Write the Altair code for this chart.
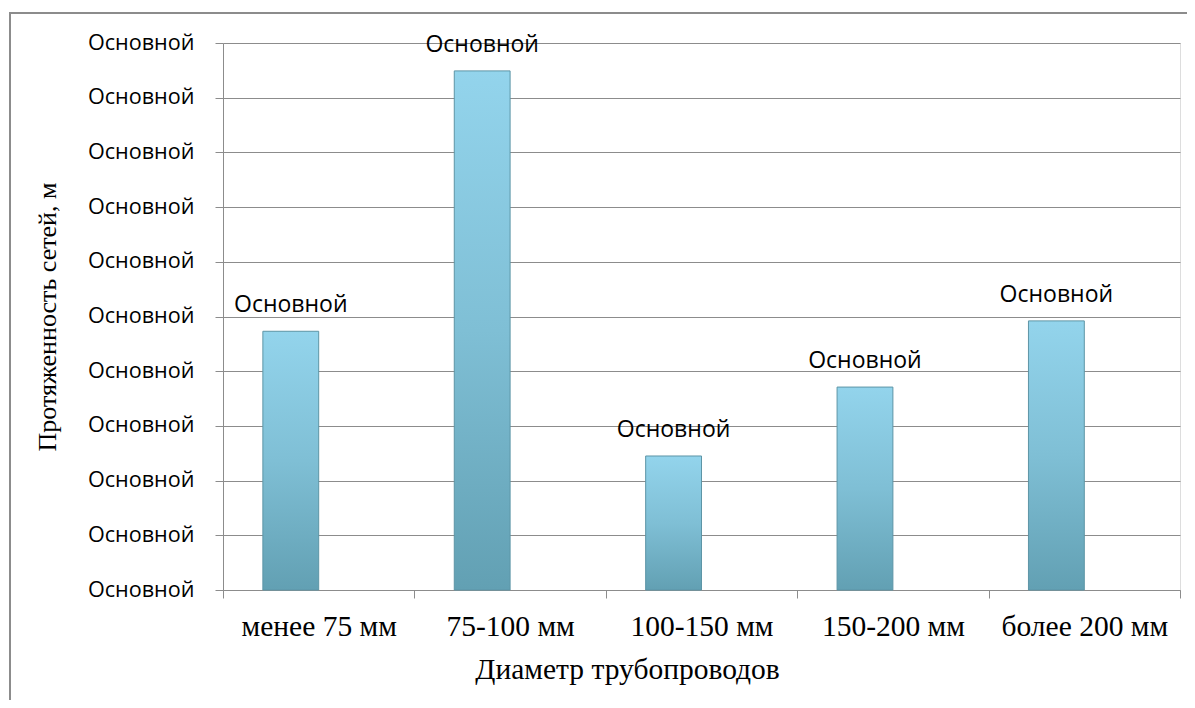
import altair as alt
import pandas as pd

categories = ["менее 75 мм", "75-100 мм", "100-150 мм", "150-200 мм", "более 200 мм"]
values = [4.73, 9.49, 2.45, 3.71, 4.92]
series_names = ["Ряд1", "Ряд2"]
bar_labels = ["Основной", "Основной", "Основной", "Основной", "Основной"]
y_ticks = [0, 1, 2, 3, 4, 5, 6, 7, 8, 9, 10]
y_tick_label = "Основной"

df = pd.DataFrame({
    "cat": categories,
    "val": values,
    "series": [series_names[0]] * len(categories),
    "lab": bar_labels,
})

W, H = 957, 547

x_enc = alt.X("cat:N", sort=categories,
              scale=alt.Scale(paddingInner=0, paddingOuter=0),
              axis=alt.Axis(title="Диаметр трубопроводов", labelAngle=0,
                            labelFont="Liberation Serif", labelFontSize=29.5,
                            labelColor="#000", labelPadding=14,
                            titleFont="Liberation Serif", titleFontSize=29.5,
                            titleFontWeight="normal", titleColor="#000",
                            titleX=404, titleY=88, titleBaseline="alphabetic",
                            titleAlign="center", titleAnchor="start",
                            tickBand="extent", tickSize=8, tickColor="#8c8c8c",
                            domainColor="#8c8c8c", grid=False))
xoff = alt.XOffset("series:N", scale=alt.Scale(domain=series_names,
                                                paddingInner=0, paddingOuter=0.714))
y_enc = alt.Y("val:Q", scale=alt.Scale(domain=[0, 10], nice=False),
              axis=alt.Axis(title="Протяженность сетей, м", values=y_ticks,
                            labelExpr=f"'{y_tick_label}'",
                            labelFont="Open Sans", labelFontSize=21.6,
                            labelColor="#000", labelPadding=21,
                            titleFont="Liberation Serif", titleFontSize=26,
                            titleFontWeight="normal", titleColor="#000",
                            titleAngle=-90, titleX=-176, titleY=H / 2,
                            titleBaseline="middle", titleAlign="center",
                            tickSize=8, tickColor="#8c8c8c",
                            domainColor="#8c8c8c", gridColor="#8c8c8c",
                            gridWidth=1, gridOpacity=1))

grad = alt.Gradient(
    gradient="linear", x1=0, y1=0, x2=0, y2=1,
    stops=[alt.GradientStop(color="#93d4ec", offset=0),
           alt.GradientStop(color="#7fbfd5", offset=0.5),
           alt.GradientStop(color="#62a0b3", offset=1)])

bars = alt.Chart(df).mark_bar(color=grad, stroke="#5d95a6", strokeWidth=1).encode(
    x=x_enc, xOffset=xoff, y=y_enc)

texts = alt.Chart(df).mark_text(font="Open Sans", fontSize=23, color="#000",
                                baseline="alphabetic", dy=-19).encode(
    x=alt.X("cat:N", sort=categories), xOffset="series:N", y="val:Q", text="lab:N")

frame_left = alt.Chart(df).mark_rule(color="#8c8c8c", strokeWidth=2).encode(
    x=alt.value(-213), y=alt.value(-30), y2=alt.value(H + 130))
frame_top = alt.Chart(df).mark_rule(color="#8c8c8c", strokeWidth=2).encode(
    x=alt.value(-214), x2=alt.value(W + 30), y=alt.value(-30))

chart = alt.layer(frame_left, frame_top, bars, texts).properties(
    width=W, height=H,
    autosize=alt.AutoSizeParams(type="none"),
    padding={"left": 215, "top": 35, "right": 7, "bottom": 110},
).configure_view(stroke=None).configure(background="white")

chart.save("out.html", embed_options={"renderer": "svg", "actions": False})
